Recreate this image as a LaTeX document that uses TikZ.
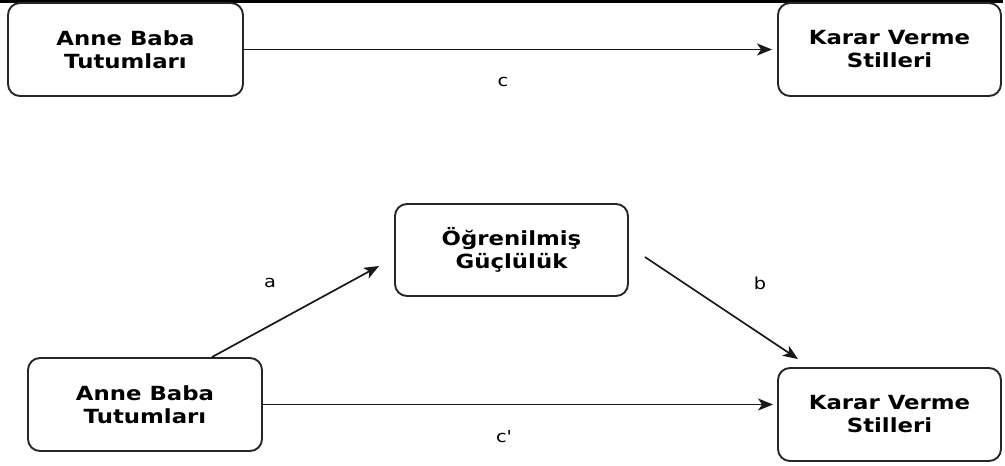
\documentclass[tikz,border=0pt]{standalone}
\usepackage{fontspec}
\newfontfamily\dfont[FakeStretch=1.17]{DejaVu Sans}
\usetikzlibrary{arrows.meta}
\tikzset{
  box/.style={draw=black!85, line width=1.9pt, rounded corners=12pt,
    inner sep=0pt, align=center,
    font=\dfont\bfseries\fontsize{19.5}{23}\selectfont},
  lbl/.style={inner sep=0pt, font=\dfont\fontsize{16.5}{18}\selectfont},
  arr/.style={line width=1.7pt, draw=black!90,
    -{Stealth[length=15pt,width=12pt,inset=4pt]}}
}
\begin{document}
\begin{tikzpicture}[x=1pt,y=-1pt]
\useasboundingbox (0,0) rectangle (1005,466);
\fill[black] (0,0) rectangle (1003,3);
% top row
\node[box, minimum width=235pt, minimum height=93pt] (tl) at (125.5,49.5) {Anne Baba\\Tutumları};
\node[box, minimum width=223pt, minimum height=93pt] (tr) at (889.5,49.5) {Karar Verme\\Stilleri};
\draw[arr, shorten >=5pt] (tl) -- (tr);
\node[lbl] (lc) at (503,82) {c};
% bottom diagram
\node[box, minimum width=233pt, minimum height=92pt] (mid) at (511.5,250) {Öğrenilmiş\\Güçlülük};
\node[box, minimum width=234pt, minimum height=93pt] (bl) at (145,404.5) {Anne Baba\\Tutumları};
\node[box, minimum width=223pt, minimum height=93pt] (br) at (889.5,414.5) {Karar Verme\\Stilleri};
\coordinate (atip) at ([xshift=-15pt,yshift=-16pt]mid.west);
\coordinate (bstart) at ([xshift=16pt,yshift=-7pt]mid.east);
\coordinate (btip) at ([xshift=21pt,yshift=8pt]br.north west);
\draw[arr] ([xshift=67pt]bl.north) -- (atip);
\draw[arr] (bstart) -- (btip);
\draw[arr, shorten >=4pt] (bl.east) -- (br.west |- bl.east);
\node[lbl] (la) at (270,283) {a};
\node[lbl] (lb) at (760,283) {b};
\node[lbl] (lcp) at (504,437) {c'};
\end{tikzpicture}
\end{document}
